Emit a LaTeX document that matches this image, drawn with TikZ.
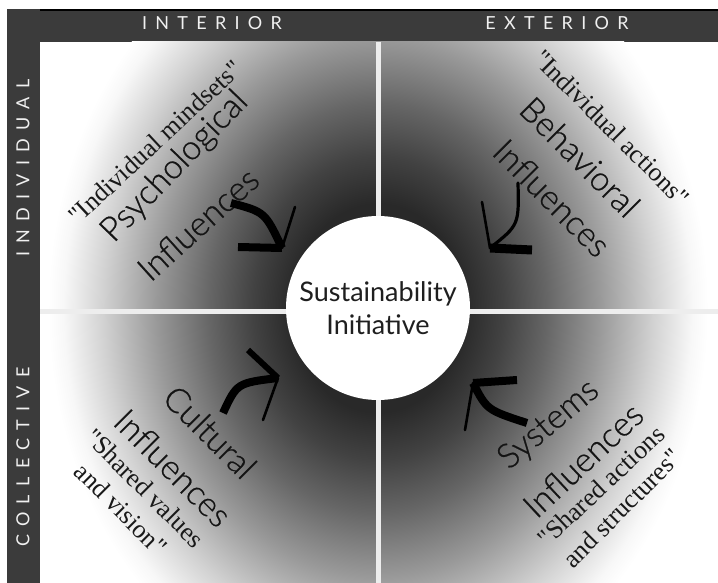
\documentclass[tikz,border=0pt]{standalone}
\usepackage{fontspec}
\setsansfont{Lato}
\newfontfamily\lightfont{Lato Light}[FakeBold=0.6]
\newfontfamily\quotefont{Liberation Serif}
\newfontfamily\hdrfont[LetterSpace=46]{Lato}
\pgfdeclareradialshading{quadshade}{\pgfpoint{0bp}{0bp}}{%
  color(0bp)=(black!84); color(6.5bp)=(black!84); color(9.5bp)=(black!74);
  color(12.8bp)=(black!60); color(16.8bp)=(black!40); color(20.8bp)=(black!18);
  color(23.8bp)=(black!3); color(25bp)=(white); color(50bp)=(white)}
\tikzset{
  lbl/.style={font=\lightfont\fontsize{34}{34}\selectfont, inner sep=0pt, text=black!92},
  qt/.style={font=\quotefont\fontsize{26}{26}\selectfont, inner sep=0pt, text=black!90},
  hdr/.style={font=\hdrfont\fontsize{18}{18}\selectfont, inner sep=0pt, text=black!6},
  hub/.style={circle, fill=white, minimum size=184pt, inner sep=0pt, align=center,
    font=\sffamily\fontsize{27}{33}\selectfont, text=black!88},
  crossline/.style={line width=5pt, draw=black!7},
  heavystroke/.style={line width=8pt, line cap=butt, draw=black},
  lightstroke/.style={line width=2.6pt, line cap=round, draw=black},
}
\begin{document}
\begin{tikzpicture}[x=1pt, y=-1pt]
\useasboundingbox (0,0) rectangle (718,583);
\fill[white] (0,0) rectangle (718,583);
% frame
\fill[black!77] (7,9) rectangle (718,583);
\fill[black] (40,9) rectangle (718,10.6);
\fill[white] (40,42) rectangle (718,583);
% shading
\begin{scope}
  \clip (40,42) rectangle (718,583);
  \shade[shading=quadshade] (378,308) ellipse[x radius=330pt, y radius=400pt];
\end{scope}
% cross
\draw[crossline] (378,42) -- (378,583);
\draw[crossline] (40,311) -- (718,311);
% headers
\node[hdr] (int) at (212,23) {INTERIOR};
\node[hdr] (ext) at (557,23) {EXTERIOR};
\node[hdr, rotate=90] (ind) at (23,168) {INDIVIDUAL};
\node[hdr, rotate=90] (col) at (23,457) {COLLECTIVE};
% hub
\node[hub] (hubnode) at (378,308) {Sustainability\\Initiative};
% top-left
\node[qt, rotate=43] (tlq) at (155,142) {"Individual mindsets"};
\node[lbl, rotate=46] (tla) at (175,167) {Psychological};
\node[lbl, rotate=42] (tlb) at (198,224) {Influences};
% top-right
\node[qt, rotate=-45] (trq) at (612,128) {"Individual actions"};
\node[lbl, rotate=-45] (tra) at (580,157) {Behavioral};
\node[lbl, rotate=-45] (trb) at (552,198) {Influences};
% bottom-left
\node[lbl, rotate=-45] (bla) at (210,432) {Cultural};
\node[lbl, rotate=-45] (blb) at (173,468) {Influences};
\node[qt, rotate=-45] (blq) at (145,488) {"Shared values};
\node[qt, rotate=-45] (blr) at (121,509) {and vision"};
% bottom-right
\node[lbl, rotate=40] (bra) at (549,425) {Systems};
\node[lbl, rotate=43] (brb) at (583,460) {Influences};
\node[qt, rotate=43] (brq) at (601,486) {"Shared actions};
\node[qt, rotate=45] (brr) at (622,508) {and structures"};
% arrows
\coordinate (tlTip) at (282,248);
\coordinate (tlTail) at (231,203);
\coordinate (tlBarbA) at (238,247);
\coordinate (tlBarbB) at (295,207);
\draw[heavystroke] (tlTail) .. controls (265,212) .. (tlTip);
\draw[heavystroke] (tlBarbA) -- (tlTip);
\draw[lightstroke] (tlTip) -- (tlBarbB);

\coordinate (trTip) at (490,248);
\coordinate (trTail) at (518,183);
\coordinate (trBarbA) at (482,202);
\coordinate (trBarbB) at (532,250);
\draw[lightstroke, line width=3.2pt] (trTail) .. controls (519,225) .. (trTip);
\draw[lightstroke] (trBarbA) -- (trTip);
\draw[heavystroke, line width=9pt] (trTip) -- (trBarbB);

\coordinate (blTip) at (278,378);
\coordinate (blTail) at (223,413);
\coordinate (blBarbA) at (248,350);
\coordinate (blBarbB) at (263,420);
\draw[heavystroke] (blTail) .. controls (237,383) .. (blTip);
\draw[heavystroke, line width=6pt] (blBarbA) -- (blTip);
\draw[lightstroke] (blTip) -- (blBarbB);

\coordinate (brTip) at (473,383);
\coordinate (brTail) at (527,423);
\coordinate (brBarbA) at (517,380);
\coordinate (brBarbB) at (465,430);
\draw[heavystroke] (brTail) .. controls (487,410) .. (brTip);
\draw[heavystroke] (brTip) -- (brBarbA);
\draw[lightstroke] (brTip) -- (brBarbB);
\end{tikzpicture}
\end{document}
